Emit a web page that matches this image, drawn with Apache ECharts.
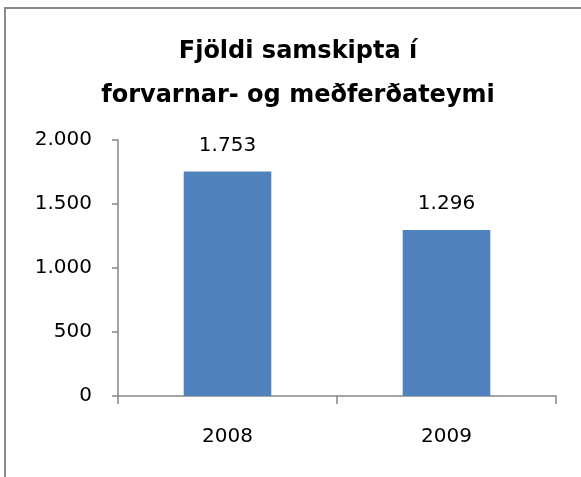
<!DOCTYPE html>
<html>
<head>
<meta charset="utf-8">
<script src="https://cdn.jsdelivr.net/npm/echarts@6/dist/echarts.min.js"></script>
<style>
  html, body { margin: 0; padding: 0; background: #fff; }
  #chart { width: 581px; height: 477px; }
</style>
</head>
<body>
<div id="chart"></div>
<script>
const years = ['2008', '2009'];
const contacts = [1753, 1296];

function isNum(v) {
    // 1753 -> "1.753"
    return String(v).replace(/\B(?=(\d{3})+(?!\d))/g, '.');
}

const chart = echarts.init(document.getElementById('chart'));
const font = 'DejaVu Sans';

const option = {
    animation: false,
    title: {
        text: 'Fjöldi samskipta í\nforvarnar- og meðferðateymi',
        left: 293,
        top: 25,
        textAlign: 'center',
        textStyle: {
            fontFamily: font,
            fontWeight: 'bold',
            fontSize: 24,
            lineHeight: 44,
            color: '#000'
        }
    },
    graphic: [{
        type: 'rect',
        shape: { x: 5, y: 8, width: 800, height: 800 },
        style: { fill: 'none', stroke: '#898989', lineWidth: 2 }
    }],
    grid: { left: 118, right: 25, top: 140, bottom: 81 },
    xAxis: {
        type: 'category',
        data: years,
        axisLine: { lineStyle: { color: '#868686', width: 1.5 } },
        axisTick: { show: true, length: 8, lineStyle: { color: '#868686', width: 1.5 } },
        axisLabel: { margin: 31, fontFamily: font, fontSize: 20, color: '#000' }
    },
    yAxis: {
        type: 'value',
        min: 0,
        max: 2000,
        interval: 500,
        splitLine: { show: false },
        axisLine: { show: true, lineStyle: { color: '#868686', width: 1.5 } },
        axisTick: { show: true, length: 6, lineStyle: { color: '#868686', width: 1.5 } },
        axisLabel: {
            margin: 26,
            fontFamily: font,
            fontSize: 20,
            color: '#000',
            formatter: isNum
        }
    },
    series: [{
        type: 'bar',
        data: contacts,
        barWidth: '40%',
        itemStyle: { color: '#4F81BD' },
        label: {
            show: true,
            position: 'top',
            distance: 16,
            fontFamily: font,
            fontSize: 20,
            color: '#000',
            formatter: p => isNum(p.value)
        }
    }]
};

chart.setOption(option);
</script>
</body>
</html>
